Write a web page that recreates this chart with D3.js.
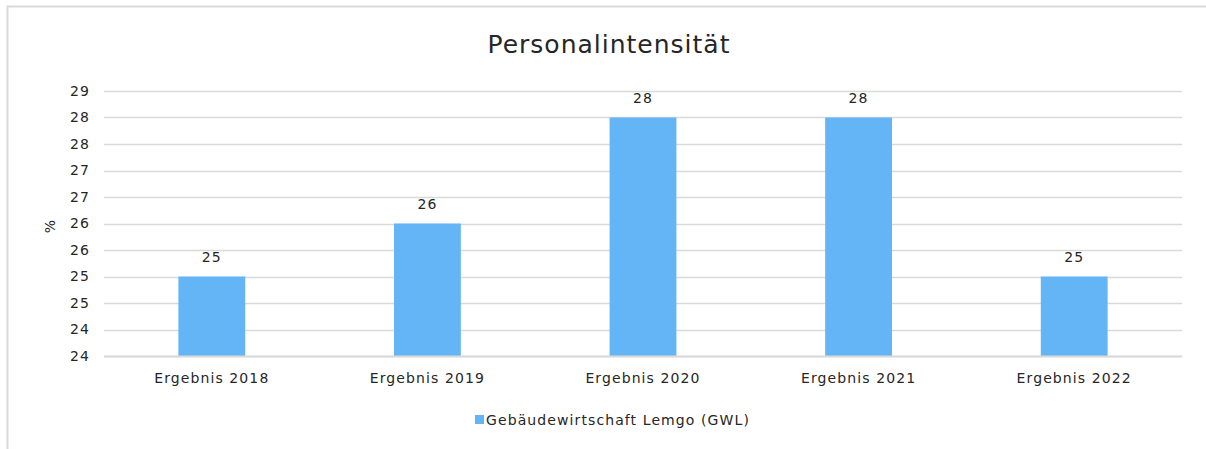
<!DOCTYPE html>
<html>
<head>
<meta charset="utf-8">
<script src="https://cdn.jsdelivr.net/npm/d3@7"></script>
<style>
  body { margin: 0; background: #fff; }
  text { font-family: "DejaVu Sans", Verdana, sans-serif; fill: #262626; letter-spacing: 1.1px; }
</style>
</head>
<body>
<div class="chart"></div>
<script>
var categories = ["Ergebnis 2018", "Ergebnis 2019", "Ergebnis 2020", "Ergebnis 2021", "Ergebnis 2022"];
var values = [25.5, 26.5, 28.5, 28.5, 25.5];
var valueLabels = ["25", "26", "28", "28", "25"];
var yTicks = [24, 24.5, 25, 25.5, 26, 26.5, 27, 27.5, 28, 28.5, 29];
var yTickLabels = ["24", "24", "25", "25", "26", "26", "27", "27", "28", "28", "29"];
var seriesName = "Gebäudewirtschaft Lemgo (GWL)";

var svgWidth = 1206;
var svgHeight = 449;
var margin = { top: 91, right: 24, bottom: 93, left: 104 };
var width = svgWidth - margin.left - margin.right;
var height = svgHeight - margin.top - margin.bottom;

var svg = d3.select(".chart")
  .append("svg")
  .attr("width", svgWidth)
  .attr("height", svgHeight);

// chart border (cropped at right and bottom)
svg.append("rect")
  .attr("x", 7.5)
  .attr("y", 6.5)
  .attr("width", svgWidth + 10)
  .attr("height", svgHeight + 10)
  .attr("fill", "none")
  .attr("stroke", "#d9d9d9")
  .attr("stroke-width", 2);

svg.append("text")
  .attr("x", 609)
  .attr("y", 53)
  .attr("text-anchor", "middle")
  .attr("font-size", "25px")
  .style("letter-spacing", "1px")
  .text("Personalintensität");

var chartGroup = svg.append("g")
  .attr("transform", `translate(${margin.left}, ${margin.top})`);

var x = d3.scaleBand()
  .domain(categories)
  .range([0, width])
  .paddingInner(0.69)
  .paddingOuter(0.345);

var y = d3.scaleLinear()
  .domain([24, 29])
  .range([height, 0]);

// gridlines
chartGroup.append("g")
  .selectAll("line")
  .data(yTicks)
  .enter()
  .append("line")
  .attr("x1", 0)
  .attr("x2", width)
  .attr("y1", d => Math.round(y(d)) + 0.5)
  .attr("y2", d => Math.round(y(d)) + 0.5)
  .attr("stroke", "#d9d9d9")
  .attr("stroke-width", 1.5);

var leftAxis = d3.axisLeft(y)
  .tickValues(yTicks)
  .tickFormat((d, i) => yTickLabels[i])
  .tickSize(0)
  .tickPadding(14);

var yAxis = chartGroup.append("g").call(leftAxis);
yAxis.select(".domain").remove();
yAxis.selectAll("text")
  .attr("font-size", "14px")
  .style("font-family", "DejaVu Sans, Verdana, sans-serif")
  .attr("fill", "#262626");

chartGroup.selectAll(".bar")
  .data(values)
  .enter()
  .append("rect")
  .attr("class", "bar")
  .attr("x", (d, i) => x(categories[i]))
  .attr("y", d => y(d))
  .attr("width", x.bandwidth())
  .attr("height", d => height - y(d))
  .attr("fill", "#64b5f6");

// baseline
chartGroup.append("line")
  .attr("x1", 0)
  .attr("x2", width)
  .attr("y1", height + 0.5)
  .attr("y2", height + 0.5)
  .attr("stroke", "#d9d9d9")
  .attr("stroke-width", 2);

chartGroup.selectAll(".vlabel")
  .data(values)
  .enter()
  .append("text")
  .attr("class", "vlabel")
  .attr("x", (d, i) => x(categories[i]) + x.bandwidth() / 2)
  .attr("y", d => y(d) - 15)
  .attr("text-anchor", "middle")
  .attr("font-size", "14px")
  .text((d, i) => valueLabels[i]);

var bottomAxis = d3.axisBottom(x).tickSize(0).tickPadding(17);
var xAxis = chartGroup.append("g")
  .attr("transform", `translate(0, ${height})`)
  .call(bottomAxis);
xAxis.select(".domain").remove();
xAxis.selectAll("text")
  .attr("font-size", "14px")
  .style("font-family", "DejaVu Sans, Verdana, sans-serif")
  .attr("fill", "#262626");

svg.append("text")
  .attr("transform", "rotate(-90)")
  .attr("x", -226)
  .attr("y", 55)
  .attr("text-anchor", "middle")
  .attr("font-size", "14px")
  .text("%");

// legend
var legend = svg.append("g").attr("transform", "translate(475, 415)");
legend.append("rect")
  .attr("width", 9)
  .attr("height", 9)
  .attr("fill", "#64b5f6");
legend.append("text")
  .attr("x", 11)
  .attr("y", 9.5)
  .attr("font-size", "14px")
  .text(seriesName);
</script>
</body>
</html>
